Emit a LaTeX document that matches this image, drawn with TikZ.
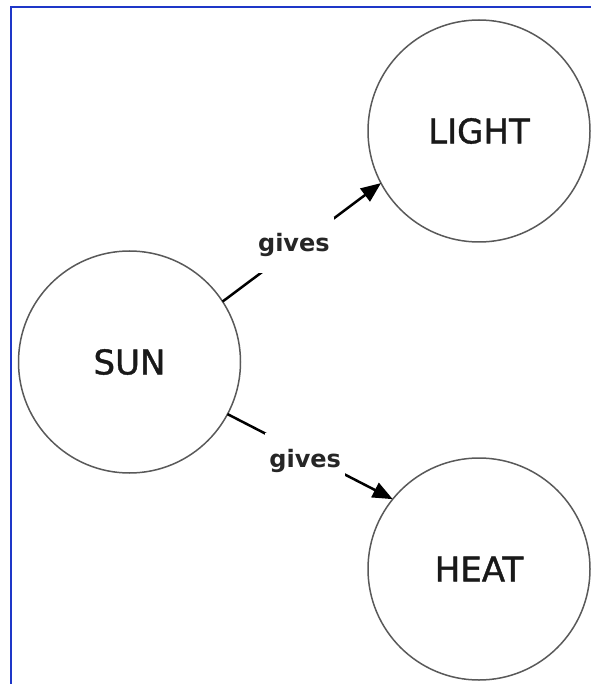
\documentclass[tikz,border=0pt]{standalone}
\usepackage{fontspec}
\setmainfont{DejaVu Sans}
\newfontfamily\conceptfont[FakeBold=1.2]{DejaVu Sans}
\usetikzlibrary{arrows.meta}

\definecolor{framblue}{RGB}{30,55,200}

\begin{document}
\begin{tikzpicture}[x=1pt,y=-1pt,
    concept/.style={circle,draw=black!65,line width=1.5pt,minimum size=222pt,inner sep=0pt,outer sep=0pt,text=black!90,font=\conceptfont\fontsize{34}{40}\selectfont},
    link/.style={line width=2.5pt,-{Triangle[length=20pt,width=16pt]}},
    linklabel/.style={fill=white,inner sep=0pt,minimum width=80pt,minimum height=56pt,text=black!85,font=\bfseries\fontsize{24}{28}\selectfont}]
    \useasboundingbox (0,0) rectangle (591,684);
    \draw[framblue,line width=1.5pt] (11,684) -- (11,7) -- (591,7);

    \node[concept] (sun) at (129.5,362) {SUN};
    \node[concept] (light) at (479,131) {LIGHT};
    \node[concept] (heat) at (479,569) {HEAT};

    \path
    (sun.33) edge[link] node[linklabel,pos=0.45,yshift=3pt] {gives} (light.208)
    (sun.-28.5) edge[link] node[linklabel,pos=0.47,yshift=-7pt] {gives} (heat.141);
\end{tikzpicture}
\end{document}
